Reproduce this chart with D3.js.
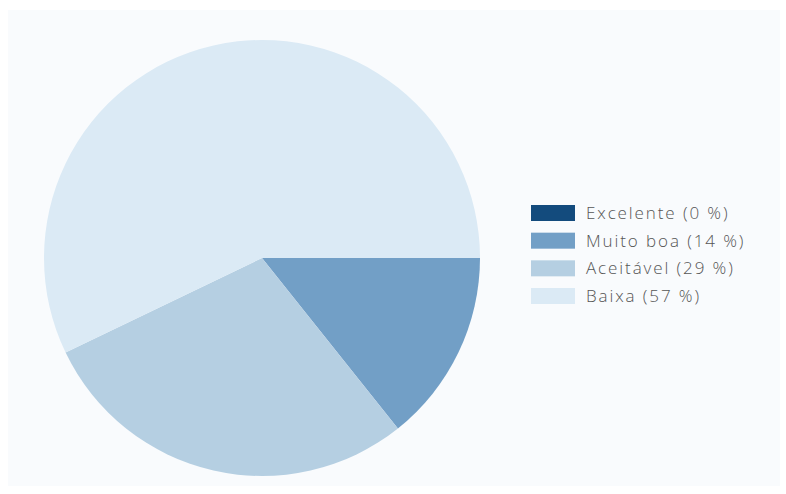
<!DOCTYPE html>
<html><head><meta charset="utf-8">
<script src="https://cdn.jsdelivr.net/npm/d3@7"></script>
<style>body{margin:0;background:#fff}svg{display:block}</style>
</head><body>
<svg id="c" width="786" height="494"></svg>
<script>
const categories = ["Excelente", "Muito boa", "Aceitável", "Baixa"];
const values = [0, 1, 2, 4];
const percentLabels = ["0 %", "14 %", "29 %", "57 %"];
const colors = ["#134b7d", "#729fc6", "#b5cfe2", "#dbeaf5"];

const svg = d3.select("#c");
svg.append("rect").attr("x", 8).attr("y", 10).attr("width", 772).attr("height", 476).attr("fill", "#f9fbfd");

const cx = 262, cy = 258, r = 218;
const data = categories.map((c, i) => ({c, v: values[i], i}));
const pie = d3.pie().value(d => d.v).sort(null).startAngle(Math.PI / 2).endAngle(Math.PI / 2 + 2 * Math.PI);
const arc = d3.arc().innerRadius(0).outerRadius(r);
const color = d3.scaleOrdinal().domain(categories).range(colors);

svg.append("g").attr("transform", `translate(${cx},${cy})`)
  .selectAll("path").data(pie(data)).join("path")
  .attr("d", arc).attr("fill", d => color(d.data.c));

const leg = svg.append("g").attr("transform", "translate(531,205)");
const y = d3.scalePoint().domain(categories).range([0, 83]);
const rows = leg.selectAll("g").data(data).join("g").attr("transform", d => `translate(0,${y(d.c)})`);
rows.append("rect").attr("width", 44).attr("height", 16).attr("fill", d => color(d.c));
rows.append("text").attr("x", 55).attr("y", 14)
  .attr("font-family", "'Open Sans', sans-serif").attr("font-size", 17).attr("font-weight", 300)
  .attr("letter-spacing", 1.9).attr("fill", "#555")
  .text(d => `${d.c} (${percentLabels[d.i]})`);
</script>
</body></html>
